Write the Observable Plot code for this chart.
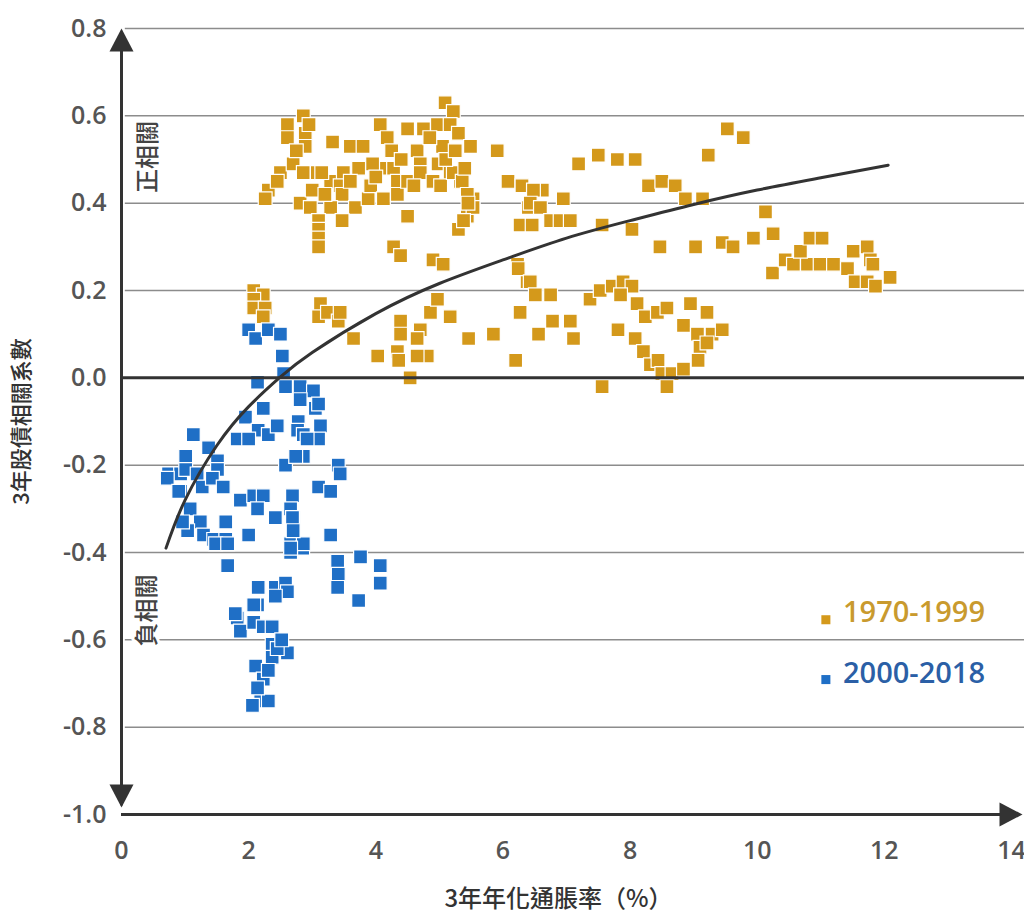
<!DOCTYPE html>
<html><head><meta charset="utf-8">
<script src="https://cdn.jsdelivr.net/npm/d3@7"></script>
<script src="https://cdn.jsdelivr.net/npm/@observablehq/plot@0.6"></script>
<style>body{margin:0;background:#fff}</style>
</head><body><div id="chart"></div>
<script>
// ---- data ----
const seriesNames = ["1970-1999", "2000-2018"];
const xTicks = [0, 2, 4, 6, 8, 10, 12, 14];
const yTicks = [-1.0, -0.8, -0.6, -0.4, -0.2, 0.0, 0.2, 0.4, 0.6, 0.8];
const gridValues = [-0.8, -0.6, -0.4, -0.2, 0.2, 0.4, 0.6, 0.8];
const xTitle = "3年年化通脹率（%）";
const yTitle = "3年股債相關系數";
const posLabel = "正相關";
const negLabel = "負相關";

// 1970-1999 (inflation %, correlation)
const series1970 = [
  [2.86,0.60],[2.61,0.58],[2.61,0.55],[2.89,0.56],[2.89,0.53],[3.32,0.54],[3.60,0.53],[3.80,0.53],
  [4.07,0.58],[4.18,0.55],[4.50,0.57],[4.75,0.57],[4.97,0.58],[5.09,0.63],[5.22,0.61],[5.17,0.58],
  [5.30,0.56],[5.05,0.53],[5.49,0.53],[4.65,0.52],[4.70,0.49],[4.98,0.49],[5.17,0.47],[5.33,0.45],
  [5.53,0.41],[5.44,0.37],[5.30,0.34],[4.50,0.37],[2.50,0.47],[2.31,0.43],[2.26,0.41],[2.70,0.49],
  [2.86,0.47],[3.08,0.47],[3.29,0.45],[3.49,0.47],[3.73,0.48],[3.44,0.44],[3.47,0.42],[3.68,0.39],
  [3.29,0.39],[2.81,0.40],[2.97,0.39],[3.10,0.36],[3.10,0.34],[3.10,0.32],[3.47,0.36],[3.88,0.41],
  [3.92,0.44],[4.10,0.48],[4.12,0.41],[4.28,0.48],[4.34,0.45],[4.34,0.42],[4.50,0.45],[4.70,0.47],
  [4.90,0.45],[5.02,0.44],[5.22,0.47],[5.36,0.45],[5.44,0.42],[5.53,0.39],[5.91,0.52],
  [2.45,0.45],[2.75,0.52],[3.00,0.43],[3.20,0.42],[3.60,0.45],[3.95,0.49],[4.25,0.52],[4.40,0.50],
  [4.85,0.55],[5.10,0.50],[5.25,0.52],[5.40,0.48],[2.95,0.58],[3.15,0.47],[4.00,0.46],[4.60,0.44],
  [5.45,0.40],[5.38,0.36],
  [6.08,0.45],[6.30,0.44],[6.40,0.39],[6.27,0.35],[6.62,0.43],[6.48,0.43],[6.43,0.40],[6.59,0.39],
  [6.95,0.41],[6.46,0.35],[6.75,0.36],[6.90,0.36],[7.06,0.36],[7.56,0.35],[8.03,0.34],[7.19,0.49],
  [7.50,0.51],[7.80,0.50],[8.08,0.50],[8.29,0.44],[8.50,0.45],[8.71,0.44],[8.87,0.41],[9.14,0.41],
  [9.23,0.51],[9.53,0.57],[9.78,0.55],[8.47,0.30],[9.03,0.30],[9.45,0.31],[9.62,0.30],[9.94,0.32],
  [10.13,0.38],[10.25,0.33],[10.24,0.24],[10.44,0.27],[10.57,0.26],[10.79,0.26],[10.99,0.26],[11.20,0.26],
  [11.42,0.25],[11.54,0.22],[11.73,0.22],[11.86,0.21],[12.09,0.23],[10.68,0.29],[10.83,0.32],[11.02,0.32],
  [11.51,0.29],[11.73,0.30],[11.78,0.27],[11.82,0.26],
  [3.10,0.30],[4.28,0.30],[4.39,0.28],[4.90,0.27],[5.06,0.26],[6.23,0.26],[6.38,0.22],[6.24,0.25],
  [6.43,0.22],[6.51,0.19],[6.75,0.19],[6.78,0.13],[7.06,0.13],[7.11,0.09],[6.56,0.10],[5.85,0.10],
  [6.20,0.04],[6.27,0.15],[7.37,0.18],[7.53,0.20],[7.72,0.21],[7.89,0.22],[8.03,0.21],[7.85,0.19],
  [8.11,0.17],[8.24,0.14],[8.43,0.15],[8.58,0.16],[7.81,0.11],[8.08,0.09],[8.21,0.06],[8.32,0.03],
  [8.44,0.04],[8.50,0.01],[8.66,0.01],[8.84,0.02],[7.56,-0.02],[8.58,-0.02],[8.95,0.17],[9.21,0.15],
  [8.84,0.12],[9.06,0.10],[9.10,0.07],[9.07,0.04],[9.29,0.10],[9.45,0.11],[9.21,0.08],
  [2.08,0.20],[2.23,0.19],[2.08,0.18],[2.08,0.16],[2.26,0.16],[2.23,0.14],[3.13,0.17],[3.10,0.14],
  [3.24,0.15],[3.41,0.13],[3.44,0.15],[3.65,0.09],[4.03,0.05],[4.39,0.13],[4.39,0.10],[4.34,0.06],
  [4.36,0.04],[4.54,0.00],[4.70,0.11],[4.65,0.09],[4.81,0.05],[4.65,0.05],[4.86,0.15],[4.97,0.18],
  [5.17,0.14],[5.46,0.09]
];

// 2000-2018
const series2000 = [
  [2.00,0.11],[2.11,0.09],[2.31,0.11],[2.50,0.10],[2.53,0.05],[2.55,0.01],[2.14,-0.01],[2.58,-0.02],
  [2.81,-0.02],[3.02,-0.03],[2.81,-0.05],[3.05,-0.07],[3.10,-0.06],[2.23,-0.07],[1.95,-0.09],[2.78,-0.10],
  [3.13,-0.11],[3.10,-0.14],[2.15,-0.12],[2.31,-0.13],[2.45,-0.11],[1.82,-0.14],[2.00,-0.14],[2.77,-0.12],
  [2.86,-0.13],[2.92,-0.14],[1.13,-0.13],[1.37,-0.16],[1.01,-0.18],[1.51,-0.19],[1.51,-0.21],[2.58,-0.20],
  [2.86,-0.18],[2.74,-0.18],[3.41,-0.20],[3.44,-0.22],[0.74,-0.22],[0.93,-0.22],[1.01,-0.21],[0.93,-0.26],
  [1.19,-0.22],[1.27,-0.25],[1.43,-0.23],[1.60,-0.25],[1.87,-0.28],[2.08,-0.27],[2.23,-0.27],[2.14,-0.30],
  [2.42,-0.32],[2.69,-0.27],[2.66,-0.30],[2.70,-0.32],[2.70,-0.34],[3.10,-0.25],[3.29,-0.26],[1.08,-0.30],
  [1.24,-0.33],[1.04,-0.35],[1.29,-0.36],[1.45,-0.37],[1.64,-0.37],[1.64,-0.33],[2.00,-0.36],[3.29,-0.36],
  [2.66,-0.38],[2.85,-0.39],[2.66,-0.40],[3.40,-0.42],[3.76,-0.41],[0.72,-0.23],[0.90,-0.26],[0.96,-0.33],
  [1.48,-0.38],[1.67,-0.38],[1.67,-0.43],[2.15,-0.48],[2.42,-0.48],[2.14,-0.52],[1.82,-0.55],[1.87,-0.58],
  [2.08,-0.56],[2.23,-0.57],[2.37,-0.57],[2.58,-0.47],[2.61,-0.49],[2.37,-0.61],[2.61,-0.63],[2.37,-0.64],
  [2.11,-0.66],[2.23,-0.69],[2.19,-0.74],[2.31,-0.74],[2.86,-0.38],[3.41,-0.45],[3.40,-0.48],[3.73,-0.51],
  [4.07,-0.43],[4.07,-0.47],[2.69,-0.32],[2.70,-0.35],[2.66,-0.39],[2.42,-0.50],[2.08,-0.52],[1.79,-0.54],
  [2.31,-0.67],[2.14,-0.71],[2.06,-0.75],[2.45,-0.62],[2.52,-0.60]
];

// trend curve
const curveX = [0.7, 1.0, 1.5, 2.0, 2.5, 3.0, 4.0, 5.0, 6.0, 7.0, 8.0, 9.0, 10.0, 11.0, 12.06];
const curveY = [-0.39, -0.28, -0.155, -0.066, 0.002, 0.058, 0.147, 0.216, 0.27, 0.32, 0.36, 0.397, 0.43, 0.458, 0.487];

// ---- styles ----
const colors = ["#d4991b", "#1f6fc6"];
const legendText = ["#c99a2e", "#2b5fa6"];
const ink = "#333";
const cjk = "'Noto Sans CJK TC', 'Noto Sans CJK SC', sans-serif";

const pts1970 = series1970.map(([x, y]) => ({x, y}));
const pts2000 = series2000.map(([x, y]) => ({x, y}));
const curve = curveX.map((x, i) => ({x, y: curveY[i]}));

// arrowhead symbols with tip at origin
const arrowUp = {draw(c) { c.moveTo(0, 0); c.lineTo(-12, 23); c.lineTo(12, 23); c.closePath(); }};
const arrowDown = {draw(c) { c.moveTo(0, -7); c.lineTo(-12, -30); c.lineTo(12, -30); c.closePath(); }};
const arrowRight = {draw(c) { c.moveTo(11, 0); c.lineTo(-12, -12); c.lineTo(-12, 12); c.closePath(); }};

const chart = Plot.plot({
  width: 1024,
  height: 921,
  marginLeft: 121,
  marginRight: 13,
  marginTop: 28,
  marginBottom: 107,
  style: {fontFamily: "'Open Sans', sans-serif", fontSize: "25px", fontWeight: 600, color: "#555", background: "#fff", overflow: "visible"},
  x: {domain: [0, 14], ticks: xTicks, tickSize: 0, tickPadding: 27, label: null},
  y: {domain: [-1, 0.8], ticks: yTicks, tickSize: 0, tickPadding: 15, tickFormat: d => d.toFixed(1), label: null},
  marks: [
    Plot.ruleY(gridValues, {x1: 0.06, x2: 14.3, stroke: "#8c8c8c", strokeWidth: 1.5}),
    Plot.dot(pts1970, {x: "x", y: "y", symbol: "square", r: 7.8, fill: colors[0], stroke: "white", strokeWidth: 1.2}),
    Plot.dot(pts2000, {x: "x", y: "y", symbol: "square", r: 7.8, fill: colors[1], stroke: "white", strokeWidth: 1.2}),
    Plot.ruleY([0], {x1: 0, x2: 14.3, stroke: ink, strokeWidth: 3}),
    Plot.line(curve, {x: "x", y: "y", curve: "natural", stroke: ink, strokeWidth: 3}),
    Plot.ruleX([0], {y1: -0.98, y2: 0.77, stroke: ink, strokeWidth: 3}),
    Plot.ruleY([-1], {x1: 0, x2: 13.9, stroke: ink, strokeWidth: 3}),
    Plot.dot([0.8], {x: 0, y: d => d, symbol: arrowUp, fill: ink, stroke: null}),
    Plot.dot([-1], {x: 0, y: d => d, symbol: arrowDown, fill: ink, stroke: null}),
    Plot.dot([14], {x: d => d, y: -1, symbol: arrowRight, fill: ink, stroke: null}),
    Plot.text([posLabel], {x: 0.42, y: 0.506, rotate: -90, fontFamily: cjk, fontSize: 24, fontWeight: 500, fill: "#444", stroke: "white", strokeWidth: 6}),
    Plot.text([negLabel], {x: 0.41, y: -0.533, rotate: -90, fontFamily: cjk, fontSize: 24, fontWeight: 500, fill: "#444", stroke: "white", strokeWidth: 6}),
    Plot.text([yTitle], {frameAnchor: "left", textAnchor: "middle", dx: -100, rotate: -90, fontFamily: cjk, fontSize: 22, fontWeight: 500, fill: ink}),
    Plot.text([xTitle], {frameAnchor: "bottom", textAnchor: "middle", dy: 85, dx: -8, lineAnchor: "middle", fontFamily: cjk, fontSize: 24, fontWeight: 500, fill: ink}),
    Plot.dot(seriesNames, {x: 11.08, y: (d, i) => -0.554 - 0.137 * i, symbol: "square", r: 5.1, fill: (d, i) => colors[i], stroke: null}),
    Plot.text(seriesNames, {x: 11.35, y: (d, i) => -0.538 - 0.139 * i, textAnchor: "start", fontFamily: "'Open Sans', sans-serif", fontSize: 29, fontWeight: 600, fill: (d, i) => legendText[i]})
  ]
});
document.getElementById("chart").append(chart);
</script>
</body></html>
